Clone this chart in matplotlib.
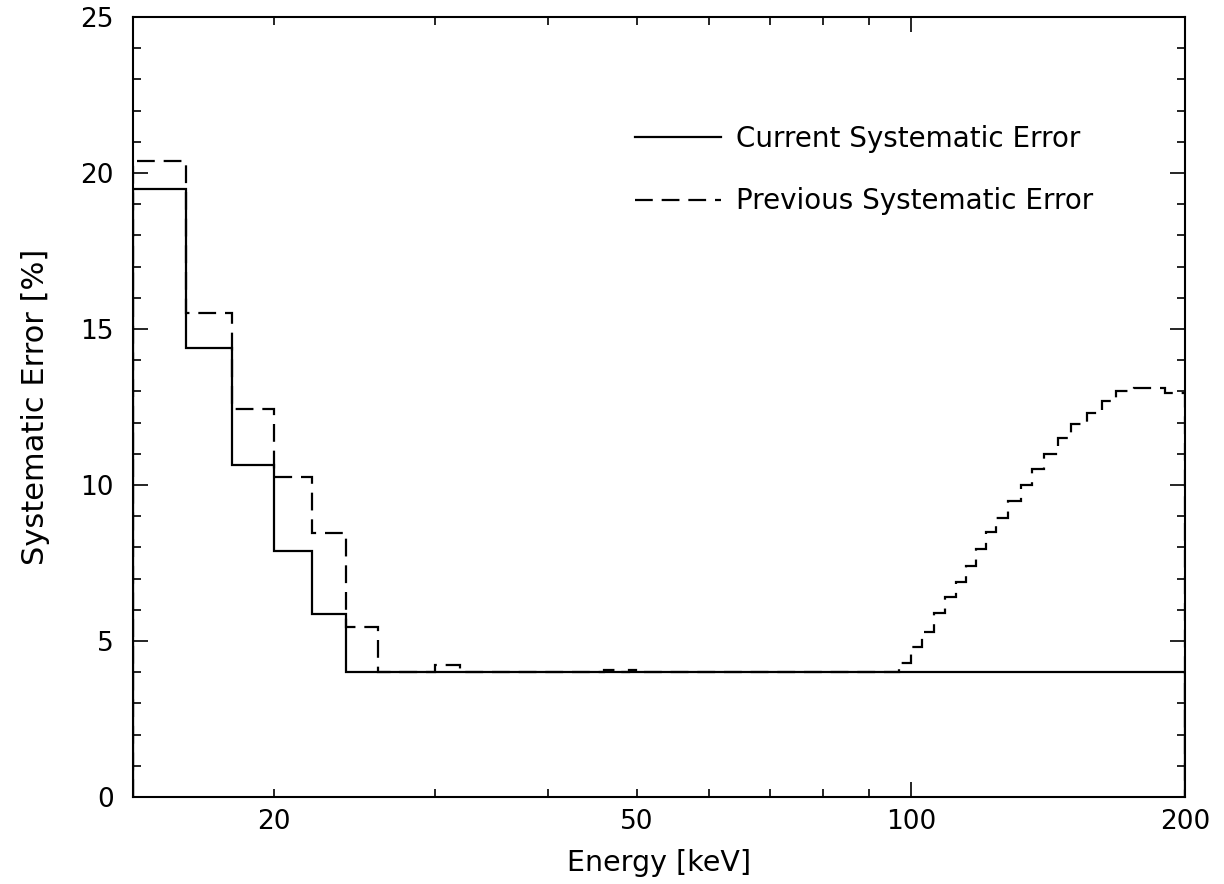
import numpy as np
import matplotlib
matplotlib.use("Agg")
import matplotlib.pyplot as plt
from matplotlib.ticker import FixedLocator, NullFormatter, MultipleLocator

plt.rcParams["font.family"] = ["DejaVu Sans"]

# current systematic error (step edges in keV, value in %)
cur_edges = [14, 16, 18, 20, 22, 24, 200]
cur_vals = [19.5, 14.4, 10.65, 7.9, 5.85, 4.0]

# previous systematic error
prev_edges = [14, 16, 18, 20, 22, 24, 26,
              30, 32, 46, 47.5, 49, 51, 97,
              100, 103, 106, 109, 112, 115, 118, 121, 124, 128,
              132, 136, 140, 145, 150, 156, 162, 168, 176, 190, 200]
prev_vals = [20.4, 15.5, 12.45, 10.25, 8.45, 5.45,
             4.0, 4.22, 4.0, 4.08, 4.0, 4.08, 4.0,
             4.3, 4.8, 5.3, 5.9, 6.4, 6.9, 7.4, 7.95, 8.5, 8.95,
             9.5, 10.0, 10.5, 11.0, 11.5, 11.95, 12.3, 12.7, 13.0, 13.1, 12.95]

xtick_vals = [20, 50, 100, 200]
xtick_labels = ["20", "50", "100", "200"]
ytick_vals = [0, 5, 10, 15, 20, 25]

fig = plt.figure(figsize=(12.24, 8.84), dpi=100)
ax = fig.add_axes([0.1087, 0.0984, 0.9681 - 0.1087, 0.9808 - 0.0984])

ax.stairs(cur_vals, cur_edges, color="black", lw=1.6,
          label="Current Systematic Error")
ax.stairs(prev_vals, prev_edges, color="black", lw=1.6,
          linestyle=(0, (8, 4)), label="Previous Systematic Error")

ax.set_xscale("log")
ax.set_xlim(14, 200)
ax.set_ylim(0, 25)

ax.xaxis.set_major_locator(FixedLocator([100]))
ax.xaxis.set_minor_locator(FixedLocator([20, 30, 40, 50, 60, 70, 80, 90, 200]))
ax.xaxis.set_major_formatter(NullFormatter())
ax.xaxis.set_minor_formatter(NullFormatter())
ax.yaxis.set_major_locator(FixedLocator(ytick_vals))
ax.yaxis.set_minor_locator(MultipleLocator(1))

ax.tick_params(which="both", direction="in", top=True, right=True,
               width=1.2, labelsize=19)
ax.tick_params(which="major", length=11)
ax.tick_params(which="minor", length=5.5)
ax.tick_params(axis="y", pad=14)

for v, s in zip(xtick_vals, xtick_labels):
    ax.text(v, -0.016, s, transform=ax.get_xaxis_transform(),
            ha="center", va="top", fontsize=19)

for sp in ax.spines.values():
    sp.set_linewidth(1.5)

ax.set_xlabel("Energy [keV]", fontsize=20.5, labelpad=34)
ax.set_ylabel("Systematic Error [%]", fontsize=22, labelpad=22)

ax.legend(loc="upper left", bbox_to_anchor=(0.477, 0.862), frameon=False,
          fontsize=20, handlelength=3.1, handletextpad=0.55,
          labelspacing=1.25, borderpad=0, borderaxespad=0)

fig.savefig("out.png", dpi=100)
